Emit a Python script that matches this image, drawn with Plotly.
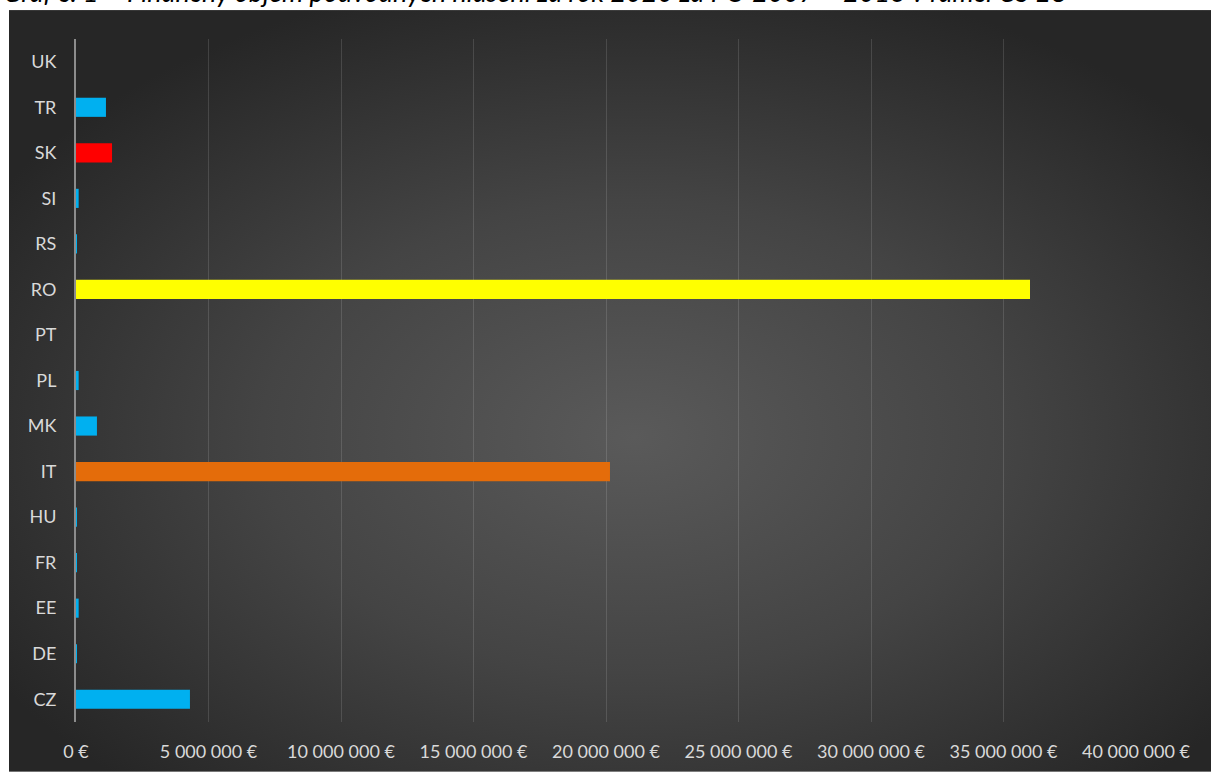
import base64
import plotly.graph_objects as go

countries = ["CZ", "DE", "EE", "FR", "HU", "IT", "MK", "PL", "PT", "RO", "RS", "SI", "SK", "TR", "UK"]
values = [4300000, 20000, 100000, 20000, 20000, 20150000, 790000, 100000, 0, 36000000, 20000, 100000, 1360000, 1130000, 0]
bar_colors = ["#00B0F0", "#00B0F0", "#00B0F0", "#00B0F0", "#00B0F0", "#E46C0A", "#00B0F0", "#00B0F0",
              "#00B0F0", "#FFFF00", "#00B0F0", "#00B0F0", "#FF0000", "#00B0F0", "#00B0F0"]
tick_vals = [0, 5000000, 10000000, 15000000, 20000000, 25000000, 30000000, 35000000, 40000000]
tick_text = ["0 €", "5 000 000 €", "10 000 000 €", "15 000 000 €", "20 000 000 €",
             "25 000 000 €", "30 000 000 €", "35 000 000 €", "40 000 000 €"]
title_text = "Graf č. 1 – Finančný objem podvodných hlásení za rok 2020 za PO 2007 – 2013 v rámci ČS EÚ"

W, H = 1211, 774
L, R, T, B = 76, 75, 39, 50
pw, ph = W - L - R, H - T - B

svg = (
    '<svg xmlns="http://www.w3.org/2000/svg" width="1202" height="764" viewBox="0 0 1202 764" preserveAspectRatio="none">'
    '<defs><radialGradient id="g" cx="0.52" cy="0.56" r="0.62" gradientUnits="objectBoundingBox">'
    '<stop offset="0" stop-color="#5a5a5a"/><stop offset="0.5" stop-color="#444444"/>'
    '<stop offset="1" stop-color="#262626"/></radialGradient></defs>'
    '<rect x="0" y="0" width="1202" height="764" fill="url(#g)"/></svg>'
)
src = "data:image/svg+xml;base64," + base64.b64encode(svg.encode()).decode()

fig = go.Figure()
fig.add_trace(go.Bar(
    y=countries, x=values, orientation="h",
    marker=dict(color=bar_colors, line=dict(width=0)),
    hoverinfo="x+y",
))

fig.add_layout_image(dict(
    source=src, xref="paper", yref="paper",
    x=(9 - L) / pw, y=(H - B - 10) / ph,
    sizex=(W - 9) / pw, sizey=(H - 10) / ph,
    xanchor="left", yanchor="top", sizing="stretch", layer="below",
))

fig.add_annotation(
    text=title_text, xref="paper", yref="paper",
    x=(1 - L) / pw, y=(H - B - 10) / ph, xanchor="left", yanchor="bottom",
    showarrow=False,
    font=dict(family="Lato", size=27, color="#000000", style="italic"),
)

fig.update_layout(
    width=W, height=H,
    margin=dict(l=L, r=R, t=T, b=B),
    paper_bgcolor="#FFFFFF", plot_bgcolor="rgba(0,0,0,0)",
    bargap=0.58, showlegend=False,
    font=dict(family="Lato", size=18, color="#D9D9D9"),
)
fig.update_xaxes(
    range=[0, 40000000], tickvals=tick_vals, ticktext=tick_text,
    showgrid=True, gridcolor="rgba(255,255,255,0.13)", gridwidth=1,
    zeroline=False, showline=False, ticks="", ticklabelstandoff=17,
    tickfont=dict(family="Lato", size=18, color="#D9D9D9"),
)
fig.update_yaxes(
    categoryorder="array", categoryarray=countries,
    showgrid=False, zeroline=False, showline=True, linecolor="#8C8C8C", linewidth=2,
    ticks="", ticklabelstandoff=14,
    tickfont=dict(family="Lato", size=18, color="#D9D9D9"),
)

fig.write_html("out.html", config={"displayModeBar": False})
with open("out.html", encoding="utf-8") as f:
    html = f.read()
html = html.replace("<head>", "<head><style>html,body{margin:0;padding:0;overflow:hidden;}</style>", 1)
with open("out.html", "w", encoding="utf-8") as f:
    f.write(html)
